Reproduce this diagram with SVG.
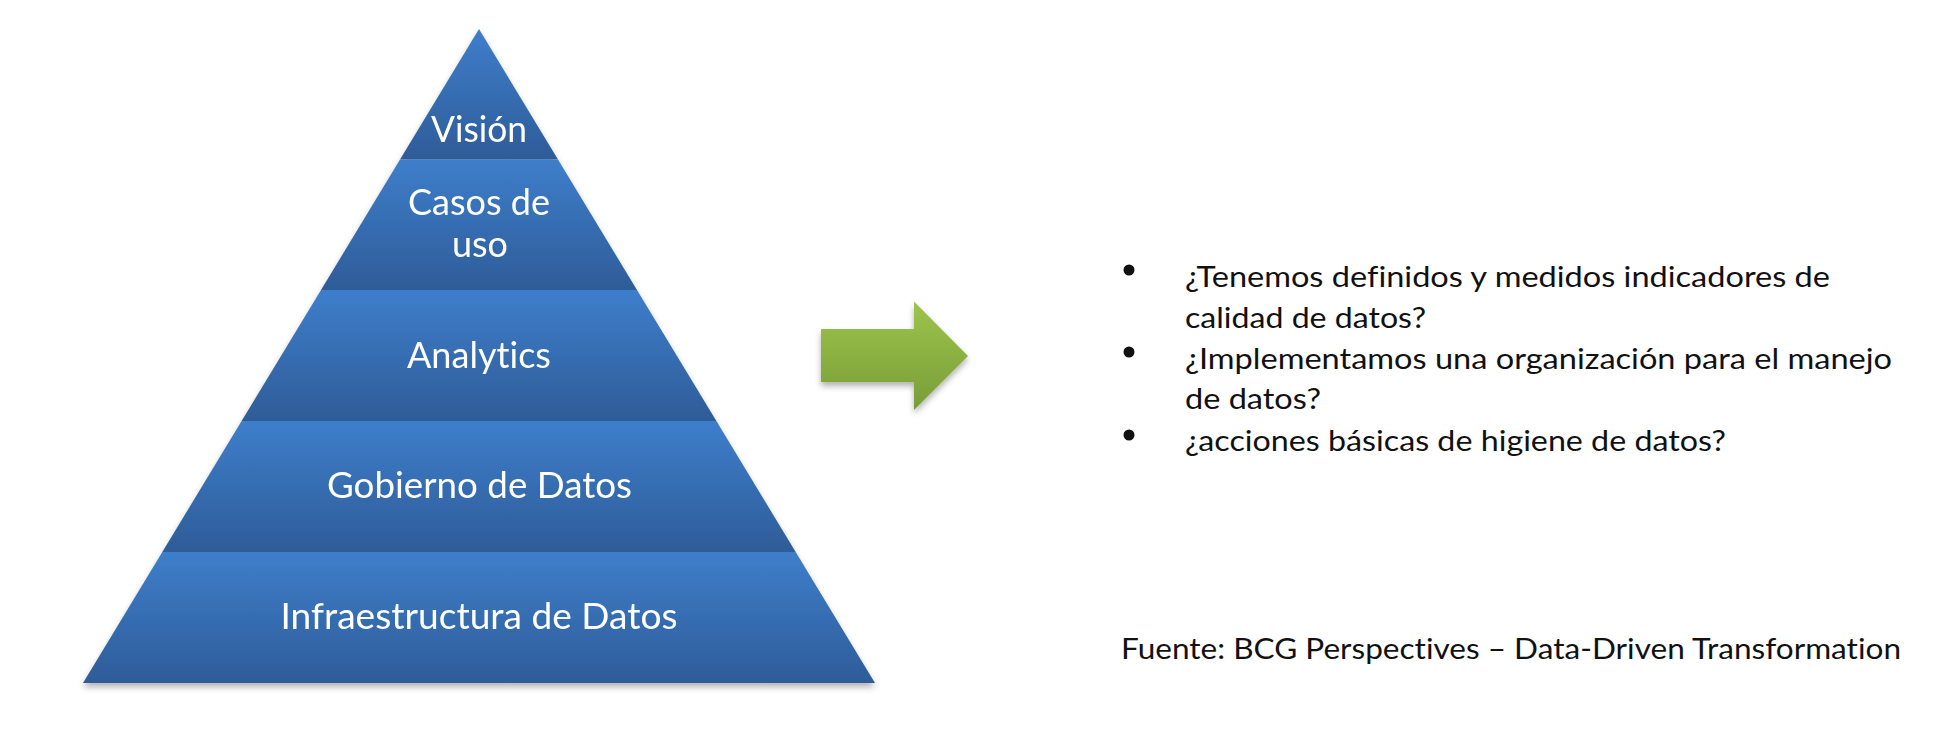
<svg xmlns="http://www.w3.org/2000/svg" width="1942" height="745" viewBox="0 0 1942 745">
  <defs>
    <linearGradient id="band" x1="0" y1="0" x2="0" y2="1">
      <stop offset="0" stop-color="#3e7ecb"/>
      <stop offset="1" stop-color="#2e5c98"/>
    </linearGradient>
    <linearGradient id="green" x1="0" y1="0" x2="0" y2="1">
      <stop offset="0" stop-color="#9dc44b"/>
      <stop offset="1" stop-color="#789d38"/>
    </linearGradient>
    <filter id="shadow" x="-10%" y="-10%" width="120%" height="125%">
      <feDropShadow dx="0" dy="4" stdDeviation="3" flood-color="#000" flood-opacity="0.3"/>
    </filter>
    <style>
      .band { fill: url(#band); }
      .lbl { font-family: Lato, "Open Sans", "Liberation Sans", sans-serif; fill: #ffffff; font-size: 36px; text-anchor: middle; font-variant-ligatures: none; }
      .txt { font-family: Lato, "Open Sans", "Liberation Sans", sans-serif; fill: #111111; font-size: 29px; font-variant-ligatures: none; }
      .dot { fill: #111111; }
    </style>
  </defs>
  <rect width="1942" height="745" fill="#ffffff"/>

  <g id="pyramid" filter="url(#shadow)">
    <g id="vision">
      <polygon class="band" points="479,29 558,159.5 400,159.5"/>
      <text class="lbl" x="479" y="142" textLength="96" lengthAdjust="spacingAndGlyphs">Visión</text>
    </g>
    <g id="casos">
      <polygon class="band" points="400,159.5 558,159.5 637,290 321,290"/>
      <text class="lbl" x="479" y="215" textLength="142" lengthAdjust="spacingAndGlyphs">Casos de</text>
      <text class="lbl" x="480" y="257" textLength="56" lengthAdjust="spacingAndGlyphs">uso</text>
    </g>
    <g id="analytics">
      <polygon class="band" points="321,290 637,290 716.4,421 241.6,421"/>
      <text class="lbl" x="479" y="368" textLength="144" lengthAdjust="spacingAndGlyphs">Analytics</text>
    </g>
    <g id="gobierno">
      <polygon class="band" points="241.6,421 716.4,421 795.7,552 162.3,552"/>
      <text class="lbl" x="479.5" y="498" textLength="305" lengthAdjust="spacingAndGlyphs">Gobierno de Datos</text>
    </g>
    <g id="infraestructura">
      <polygon class="band" points="162.3,552 795.7,552 875,683 83,683"/>
      <text class="lbl" x="479" y="629" textLength="397" lengthAdjust="spacingAndGlyphs">Infraestructura de Datos</text>
    </g>
  </g>

  <g id="connectors">
    <polygon points="821,329 914,329 914,301.5 968,356 914,410 914,382 821,382" fill="url(#green)" filter="url(#shadow)"/>
  </g>

  <g id="bullets">
    <circle class="dot" cx="1129" cy="270" r="5.5"/>
    <text class="txt" x="1185" y="287" textLength="645" lengthAdjust="spacingAndGlyphs">¿Tenemos definidos y medidos indicadores de</text>
    <text class="txt" x="1185" y="328" textLength="241" lengthAdjust="spacingAndGlyphs">calidad de datos?</text>
    <circle class="dot" cx="1129" cy="352" r="5.5"/>
    <text class="txt" x="1185" y="369" textLength="707" lengthAdjust="spacingAndGlyphs">¿Implementamos una organización para el manejo</text>
    <text class="txt" x="1185" y="409" textLength="136" lengthAdjust="spacingAndGlyphs">de datos?</text>
    <circle class="dot" cx="1129" cy="435" r="5.5"/>
    <text class="txt" x="1185" y="451" textLength="541" lengthAdjust="spacingAndGlyphs">¿acciones básicas de higiene de datos?</text>
  </g>

  <g id="source">
    <text class="txt" x="1121" y="659" textLength="780" lengthAdjust="spacingAndGlyphs">Fuente: BCG Perspectives – Data-Driven Transformation</text>
  </g>
</svg>
